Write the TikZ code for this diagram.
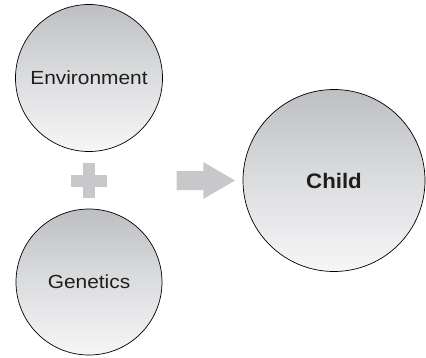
\documentclass[tikz,border=0pt]{standalone}
\usepackage{fontspec}
\setmainfont{Liberation Sans}
\newfontfamily\labelfont[FakeStretch=1.1]{Liberation Sans}
\newfontfamily\boldlabelfont[FakeStretch=1.06]{Liberation Sans Bold}
\definecolor{ballTop}{RGB}{190,191,194}
\definecolor{ballMid}{RGB}{220,221,223}
\definecolor{ballBottom}{RGB}{246,246,247}
\definecolor{signGray}{RGB}{200,200,202}
\definecolor{inkDark}{RGB}{30,30,30}
\begin{document}
\begin{tikzpicture}[x=1pt,y=-1pt,
  ball/.style={circle,draw=black,line width=0.7pt,top color=ballTop,bottom color=ballBottom,
    middle color=ballMid,inner sep=0pt,text=inkDark},
  plainlabel/.style={font=\labelfont\fontsize{19}{23}\selectfont},
  boldlabel/.style={font=\boldlabelfont\fontsize{21}{25}\selectfont}]
\useasboundingbox (0,0) rectangle (426,357);
% inputs and result
\node[ball,minimum size=147pt,plainlabel] (env) at (89,78) {Environment};
\node[ball,minimum size=146pt,plainlabel] (gen) at (89,282) {Genetics};
\node[ball,minimum size=182pt,boldlabel] (child) at (334,180.5) {Child};
% plus sign between the inputs
\fill[signGray] (71,174.5) rectangle (106.7,186.5);
\fill[signGray] (82.8,162.7) rectangle (94.8,198.3);
% block arrow pointing at the result
\fill[signGray] (176.7,171) -- (203.3,171) -- (203.3,162) -- (235,180.5)
  -- (203.3,199) -- (203.3,190) -- (176.7,190) -- cycle;
\end{tikzpicture}
\end{document}
